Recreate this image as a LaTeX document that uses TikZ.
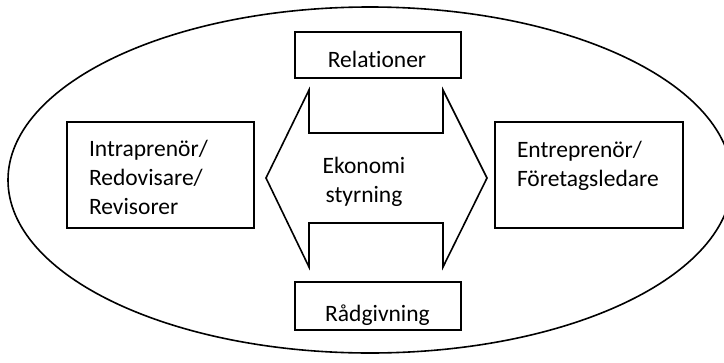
\documentclass[tikz,border=0pt]{standalone}
\usepackage{fontspec}
\setmainfont{Carlito}[Ligatures=NoCommon]
\begin{document}
\begin{tikzpicture}[x=1pt,y=-1pt,
  line width=1.6pt,
  every node/.style={inner sep=0pt,outer sep=0pt},
  frame/.style={draw,black,rectangle},
  txt/.style={font=\fontsize{23.5}{29}\selectfont,align=left},
  ctxt/.style={font=\fontsize{23.5}{29}\selectfont,align=center}]
  \useasboundingbox (0,0) rectangle (724,362);
  \clip (0,0) rectangle (724,362);

  % surrounding ellipse
  \draw (370,180) ellipse [x radius=362pt, y radius=173pt];

  % side boxes (multi-line text is anchored at the baseline of its last line)
  \node[frame,minimum width=187pt,minimum height=106pt] (left) at (160.5,175) {};
  \node[frame,minimum width=188pt,minimum height=106pt] (right) at (589,175) {};
  \node[txt,anchor=base west] (lefttext) at (89,214)
    {Intraprenör/\\Redovisare/\\Revisorer};
  \node[txt,anchor=base west] (righttext) at (517,186)
    {Entreprenör/\\Företagsledare};

  % top and bottom boxes
  \node[frame,minimum width=166pt,minimum height=46pt] (rel) at (378,55) {};
  \node[frame,minimum width=166pt,minimum height=48pt] (rad) at (378,306) {};
  \node[ctxt,anchor=base] (reltext) at (377,67) {Relationer};
  \node[ctxt,anchor=base] (radtext) at (377.5,321) {Rådgivning};

  % double arrow in the middle
  \draw[line join=miter] (266,178) -- (309,90) -- (309,133) -- (443,133) -- (443,90)
    -- (487,178) -- (443,267) -- (443,223) -- (309,223) -- (309,267) -- cycle;
  \node[ctxt,anchor=base] (eko) at (364,202) {Ekonomi\\styrning};
\end{tikzpicture}
\end{document}
